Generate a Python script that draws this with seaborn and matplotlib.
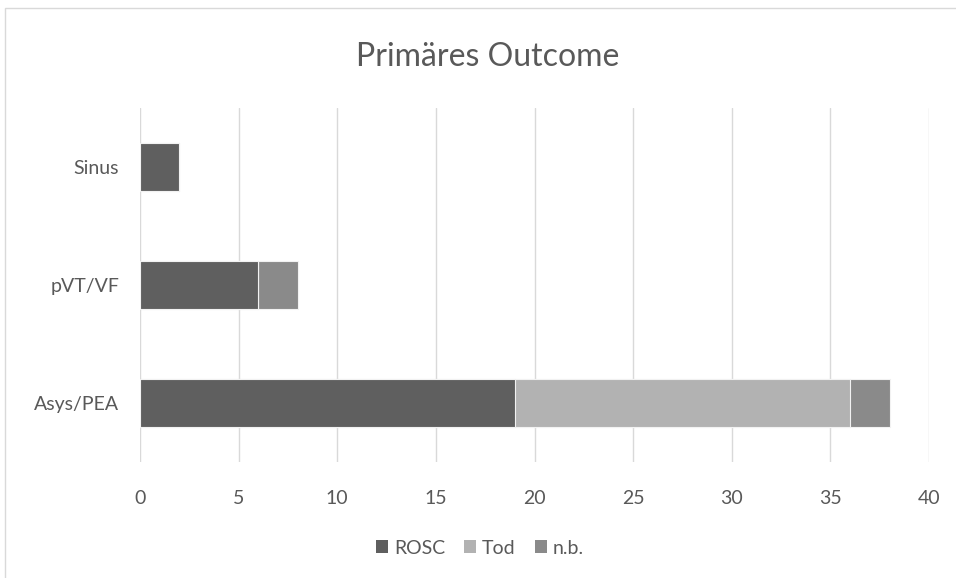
import matplotlib
matplotlib.use("Agg")
import matplotlib.pyplot as plt
import seaborn as sns
import pandas as pd
from matplotlib.patches import Rectangle, Patch

categories = ["Sinus", "pVT/VF", "Asys/PEA"]
rosc = [2, 6, 19]
tod = [0, 0, 17]
nb = [0, 2, 2]
series_names = ["ROSC", "Tod", "n.b."]
colors = {"ROSC": "#5f5f5f", "Tod": "#b2b2b2", "n.b.": "#8a8a8a"}
xticks = [0, 5, 10, 15, 20, 25, 30, 35, 40]

sns.set_theme(style="white")
plt.rcParams["font.family"] = ["Lato", "DejaVu Sans"]

df = pd.DataFrame({"cat": categories, "ROSC": rosc, "Tod": tod, "n.b.": nb})
df["c1"] = df["ROSC"]
df["c2"] = df["ROSC"] + df["Tod"]
df["c3"] = df["c2"] + df["n.b."]

fig = plt.figure(figsize=(9.56, 5.78), dpi=100)
ax = fig.add_axes([140 / 956, 1 - 462 / 578, (929 - 140) / 956, (462 - 108) / 578])

# cumulative totals drawn back to front give the stacked look
for col, name in [("c3", "n.b."), ("c2", "Tod"), ("c1", "ROSC")]:
    sns.barplot(data=df, x=col, y="cat", order=categories, orient="h",
                color=colors[name], width=0.405, edgecolor="#f2f2f2",
                linewidth=0.8, ax=ax, saturation=1)

ax.set_xlim(0, 40)
ax.set_ylim(2.5, -0.5)
ax.set_xticks(xticks)
ax.set_xticklabels([str(t) for t in xticks])
ax.xaxis.grid(True, color="#d9d9d9", linewidth=1)
ax.yaxis.grid(False)
ax.set_axisbelow(True)
for s in ax.spines.values():
    s.set_visible(False)
ax.set_xlabel("")
ax.set_ylabel("")
ax.tick_params(axis="x", colors="#595959", labelsize=14, length=0, pad=20)
ax.tick_params(axis="y", colors="#595959", labelsize=14, length=0, pad=15)

fig.text(488 / 956, 1 - 57 / 578, "Primäres Outcome", ha="center", va="center",
         fontsize=23, color="#595959")

handles = [Patch(facecolor=colors[n], edgecolor="none") for n in series_names]
fig.legend(handles, series_names, loc="center", bbox_to_anchor=(480 / 956, 1 - 548 / 578),
           ncol=3, frameon=False, fontsize=14, handlelength=0.6, handleheight=0.6,
           handletextpad=0.3, columnspacing=1.0, labelcolor="#595959")

fig.patches.append(Rectangle((5 / 956, -0.01), 1.0, 1 - 8 / 578 + 0.01,
                             transform=fig.transFigure, fill=False,
                             edgecolor="#d9d9d9", linewidth=1))

fig.savefig("out.png", dpi=100, facecolor="white")
